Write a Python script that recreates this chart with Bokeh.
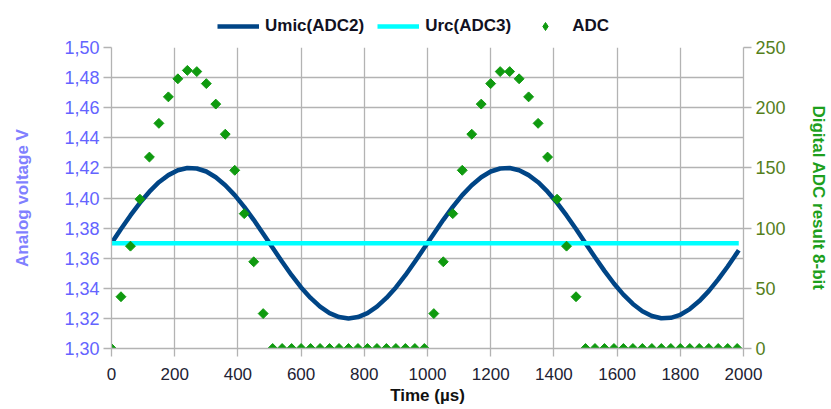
import numpy as np
from bokeh.plotting import figure
from bokeh.layouts import column
from bokeh.models import Range1d, LinearAxis, FixedTicker, Legend, LegendItem, ColumnDataSource
from bokeh.embed import file_html
from bokeh.resources import INLINE

# ---- data ----
umic_t = [0, 30, 60, 90, 120, 150, 180, 210, 240, 270, 300, 330, 360, 390, 420, 450, 480,
          510, 540, 570, 600, 630, 660, 690, 720, 750, 780, 810, 840, 870, 900, 930, 960, 990,
          1020, 1050, 1080, 1110, 1140, 1170, 1200, 1230, 1260, 1290, 1320, 1350, 1380, 1410,
          1440, 1470, 1500, 1530, 1560, 1590, 1620, 1650, 1680, 1710, 1740, 1770, 1800, 1830,
          1860, 1890, 1920, 1950, 1980, 1985]
umic_v = [1.3700, 1.3794, 1.3884, 1.3968, 1.4042, 1.4105, 1.4152, 1.4184, 1.4199, 1.4196,
          1.4176, 1.4138, 1.4085, 1.4019, 1.3941, 1.3855, 1.3763, 1.3669, 1.3576, 1.3487,
          1.3406, 1.3336, 1.3278, 1.3235, 1.3209, 1.3200, 1.3209, 1.3235, 1.3278, 1.3336,
          1.3406, 1.3487, 1.3576, 1.3669, 1.3763, 1.3855, 1.3941, 1.4019, 1.4085, 1.4138,
          1.4176, 1.4196, 1.4199, 1.4184, 1.4152, 1.4105, 1.4042, 1.3968, 1.3884, 1.3794,
          1.3700, 1.3606, 1.3516, 1.3432, 1.3358, 1.3296, 1.3248, 1.3216, 1.3201, 1.3204,
          1.3224, 1.3262, 1.3315, 1.3381, 1.3459, 1.3545, 1.3637, 1.3653]

urc_t = [0, 1985]
urc_v = [1.37, 1.37]

adc_t = [0, 30, 60, 90, 120, 150, 180, 210, 240, 270, 300, 330, 360, 390, 420, 450, 480,
         510, 540, 570, 600, 630, 660, 690, 720, 750, 780, 810, 840, 870, 900, 930, 960, 990,
         1020, 1050, 1080, 1110, 1140, 1170, 1200, 1230, 1260, 1290, 1320, 1350, 1380, 1410,
         1440, 1470, 1500, 1530, 1560, 1590, 1620, 1650, 1680, 1710, 1740, 1770, 1800, 1830,
         1860, 1890, 1920, 1950, 1980]
adc_v = [0, 43, 85, 124, 159, 187, 209, 224, 231, 230, 220, 203, 178, 148, 112, 72, 29,
         0, 0, 0, 0, 0, 0, 0, 0, 0, 0, 0, 0, 0, 0, 0, 0, 0,
         29, 72, 112, 148, 178, 203, 220, 230, 230, 224, 209, 187, 159, 124, 85, 43,
         0, 0, 0, 0, 0, 0, 0, 0, 0, 0, 0, 0, 0, 0, 0, 0, 0]

x_ticks = [0, 200, 400, 600, 800, 1000, 1200, 1400, 1600, 1800, 2000]
left_ticks = [1.30, 1.32, 1.34, 1.36, 1.38, 1.40, 1.42, 1.44, 1.46, 1.48, 1.50]
left_labels = ["1,30", "1,32", "1,34", "1,36", "1,38", "1,40", "1,42", "1,44", "1,46", "1,48", "1,50"]
right_ticks = [0, 50, 100, 150, 200, 250]

series_names = ["Umic(ADC2)", "Urc(ADC3)", "ADC"]

src_umic = ColumnDataSource(dict(t=umic_t, v=umic_v))
src_urc = ColumnDataSource(dict(t=urc_t, v=urc_v))
src_adc = ColumnDataSource(dict(t=adc_t, v=adc_v))

# ---- styles ----
FONT = "Liberation Sans"
GRID = "#b3b3b3"
C_UMIC = "#004586"
C_URC = "#00ffff"
C_ADC = "#0f9a0f"
MARKER = dict(marker="square", angle=np.pi / 4, size=7)

# ---- legend strip (top); its ranges lie outside the data so only the legend shows ----
top = figure(width=831, height=37, output_backend="svg", toolbar_location=None,
             x_axis_location=None, y_axis_location=None, min_border=0,
             x_range=Range1d(-2, -1), y_range=Range1d(-2, -1))
top.outline_line_color = None
top.grid.visible = False
t_umic = top.line("t", "v", source=src_umic, line_color=C_UMIC, line_width=4.5)
t_urc = top.line("t", "v", source=src_urc, line_color=C_URC, line_width=4.5)
t_adc = top.scatter("t", "v", source=src_adc, marker="diamond", size=12,
                    fill_color=C_ADC, line_color=C_ADC)
legend = Legend(items=[LegendItem(label=series_names[0], renderers=[t_umic]),
                       LegendItem(label=series_names[1], renderers=[t_urc]),
                       LegendItem(label=series_names[2], renderers=[t_adc])],
                location=(106, 1), orientation="horizontal")
legend.padding = 0
legend.margin = 0
legend.spacing = 13
legend.label_standoff = 6
legend.glyph_width = 42
legend.glyph_height = 20
legend.label_height = 20
legend.label_text_font = FONT
legend.label_text_font_style = "bold"
legend.label_text_font_size = "17px"
legend.label_text_color = "#111122"
legend.border_line_color = None
legend.background_fill_alpha = 0
top.add_layout(legend)

# ---- main chart ----
p = figure(width=831, height=372, output_backend="svg", toolbar_location=None,
           x_range=Range1d(0, 2000), y_range=Range1d(1.30, 1.50),
           min_border_left=111, min_border_right=88, min_border_top=10, min_border_bottom=61)
p.outline_line_color = None
p.extra_y_ranges = {"adc": Range1d(0, 250)}

xa = p.xaxis[0]
xa.ticker = FixedTicker(ticks=x_ticks)
xa.axis_label = "Time (µs)"
xa.minor_tick_line_color = None

ya = p.yaxis[0]
ya.ticker = FixedTicker(ticks=left_ticks)
ya.major_label_overrides = dict(zip(left_ticks, left_labels))
ya.axis_label = "Analog voltage V"
ya.minor_tick_line_color = None

ra = LinearAxis(y_range_name="adc", ticker=FixedTicker(ticks=right_ticks),
                axis_label="Digital ADC result 8-bit")
ra.minor_tick_line_color = None
p.add_layout(ra, "right")

for ax in (xa, ya, ra):
    ax.axis_line_color = GRID
    ax.axis_line_width = 1.3
    ax.major_tick_line_color = GRID
    ax.major_tick_line_width = 1.3
    ax.major_tick_out = 8
    ax.major_tick_in = 0
    ax.major_label_text_font = FONT
    ax.major_label_text_font_size = "18px"
    ax.axis_label_text_font = FONT
    ax.axis_label_text_font_style = "bold"
    ax.axis_label_text_font_size = "17px"

xa.major_label_text_font_size = "17px"
xa.major_label_standoff = 11
xa.axis_label_standoff = 3
xa.major_label_text_color = "#222233"
xa.axis_label_text_color = "#111111"

ya.major_label_standoff = 4
ya.axis_label_standoff = 29
ya.major_label_text_color = "#6464ff"
ya.axis_label_text_color = "#8080ff"

ra.major_label_standoff = 4
ra.axis_label_standoff = 20
ra.major_label_text_color = "#557f1c"
ra.axis_label_text_color = "#1d9f1d"

p.xgrid.grid_line_color = GRID
p.xgrid.grid_line_width = 1.3
p.ygrid.grid_line_color = GRID
p.ygrid.grid_line_width = 1.3
p.ygrid.ticker = FixedTicker(ticks=left_ticks)

p.line("t", "v", source=src_umic, line_color=C_UMIC, line_width=4.5)
p.line("t", "v", source=src_urc, line_color=C_URC, line_width=4.5)
p.scatter("t", "v", source=src_adc, y_range_name="adc", fill_color=C_ADC, line_color=C_ADC, **MARKER)

layout = column(top, p, spacing=0)
open("out.html", "w").write(file_html(layout, INLINE))
